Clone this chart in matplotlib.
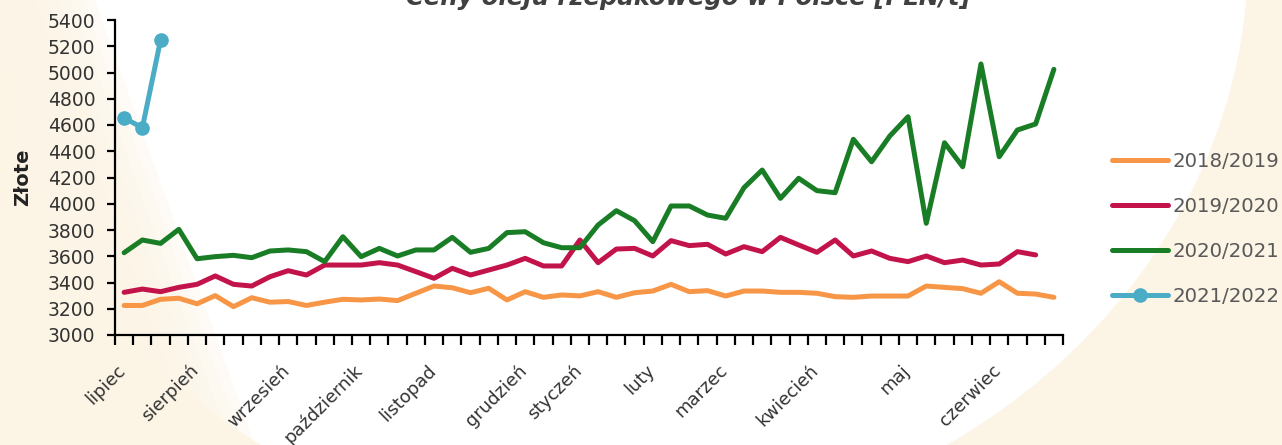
import numpy as np
import matplotlib
matplotlib.use("Agg")
import matplotlib.pyplot as plt
from matplotlib.patches import Ellipse, Polygon
from matplotlib.transforms import ScaledTranslation

# weekly prices, PLN/t
months = ['lipiec', 'sierpień', 'wrzesień', 'październik', 'listopad', 'grudzień',
          'styczeń', 'luty', 'marzec', 'kwiecień', 'maj', 'czerwiec']
month_week = [0, 4, 9, 13, 17, 22, 25, 29, 33, 38, 43, 48]
n_weeks = 52

s1819 = [3225, 3225, 3272, 3280, 3238, 3300, 3216, 3284, 3250, 3255, 3225, 3250, 3272,
         3267, 3274, 3262, 3318, 3373, 3360, 3322, 3356, 3267, 3330, 3287, 3305, 3298,
         3330, 3287, 3322, 3335, 3386, 3330, 3338, 3297, 3335, 3335, 3325, 3325, 3318,
         3292, 3287, 3297, 3297, 3297, 3373, 3363, 3353, 3318, 3406, 3318, 3312, 3287]
s1920 = [3325, 3350, 3330, 3363, 3386, 3450, 3386, 3373, 3444, 3490, 3457, 3533, 3533,
         3533, 3551, 3533, 3483, 3432, 3508, 3457, 3495, 3533, 3584, 3526, 3526, 3724,
         3551, 3655, 3660, 3602, 3719, 3681, 3691, 3617, 3673, 3635, 3744, 3686, 3630,
         3724, 3602, 3640, 3584, 3559, 3602, 3551, 3571, 3533, 3541, 3635, 3610, np.nan]
s2021 = [3627, 3724, 3698, 3805, 3581, 3597, 3607, 3589, 3640, 3648, 3635, 3559, 3749,
         3597, 3660, 3602, 3648, 3648, 3744, 3630, 3660, 3780, 3787, 3703, 3665, 3665,
         3838, 3947, 3871, 3711, 3983, 3983, 3914, 3889, 4122, 4257, 4041, 4194, 4100,
         4084, 4491, 4320, 4516, 4663, 3851, 4465, 4282, 5065, 4358, 4562, 4608, 5024]
s2122 = [4655, 4578, 5248]

seasons = ['2018/2019', '2019/2020', '2020/2021', '2021/2022']
colors = ['#F79646', '#C3134B', '#197D26', '#4BACC6']

W, H = 1282, 445
cream = '#FCF5E6'
fig = plt.figure(figsize=(W / 100, H / 100), dpi=100)
fig.patch.set_facecolor(cream)

# white backdrop shape behind the chart (pixel coords, y down)
bgax = fig.add_axes([0, 0, 1, 1], zorder=-1)
bgax.set_xlim(0, W)
bgax.set_ylim(H, 0)
bgax.axis('off')
bgax.add_patch(Ellipse((625, -20), 1250, 1110, angle=-10,
                       facecolor='white', edgecolor='none'))
# soft cream edge on the left
for k in range(6):
    d = 12 * k
    bgax.add_patch(Polygon([(0, 0), (95 - d, 0), (255 - d, H), (0, H)],
                           facecolor=cream, edgecolor='none', alpha=0.3))

ax = fig.add_axes([115 / W, 1 - 335 / H, 948 / W, 315 / H])
ax.patch.set_alpha(0)

x = np.arange(n_weeks)
lw = 3.6
ax.plot(x, s1819, color=colors[0], lw=lw, label=seasons[0], solid_capstyle='round')
ax.plot(x, s1920, color=colors[1], lw=lw, label=seasons[1], solid_capstyle='round')
ax.plot(x, s2021, color=colors[2], lw=lw, label=seasons[2], solid_capstyle='round')
ax.plot(x[:len(s2122)], s2122, color=colors[3], lw=lw, marker='o', ms=9.5,
        label=seasons[3], solid_capstyle='round')

ax.set_xlim(-0.5, n_weeks - 0.5)
ax.set_ylim(3000, 5400)
ax.set_yticks(np.arange(3000, 5401, 200))

for s in ['top', 'right']:
    ax.spines[s].set_visible(False)
for s in ['left', 'bottom']:
    ax.spines[s].set_linewidth(1.6)
    ax.spines[s].set_color('black')

ax.tick_params(axis='y', length=6, width=1.6, labelsize=13.5, labelcolor='#333333', pad=8)

# tick marks between weeks, month names at the first week of each month
ax.set_xticks(np.arange(-0.5, n_weeks, 1.0))
ax.set_xticklabels([])
ax.tick_params(axis='x', which='major', length=7, width=1.6)
ax.set_xticks(month_week, minor=True)
ax.set_xticklabels(months, minor=True, rotation=45, ha='right', va='center',
                   rotation_mode='anchor', fontsize=13, color='#333333')
ax.tick_params(axis='x', which='minor', length=0, pad=23.5)
shift = ScaledTranslation(-1 / 100, 0, fig.dpi_scale_trans)
for lab in ax.get_xticklabels(minor=True):
    lab.set_transform(lab.get_transform() + shift)

ax.set_ylabel('Złote', fontsize=14, fontweight='bold', color='#222222')
ax.yaxis.set_label_coords((32 - 115) / 948, 0.5)

fig.text(688 / W, 1 - 5 / H, 'Ceny oleju rzepakowego w Polsce [PLN/t]',
         ha='center', va='baseline', fontsize=17.5, fontweight='bold',
         fontstyle='italic', color='#404040')

leg = ax.legend(loc='center left', bbox_to_anchor=(1112 / W, 1 - 229 / H),
                bbox_transform=fig.transFigure, frameon=False, fontsize=14.2,
                handlelength=2.85, handletextpad=0.2, labelspacing=1.33,
                borderpad=0, borderaxespad=0, numpoints=1)
for t in leg.get_texts():
    t.set_color('#595959')

plt.savefig('out.png', dpi=100, facecolor=fig.get_facecolor())
